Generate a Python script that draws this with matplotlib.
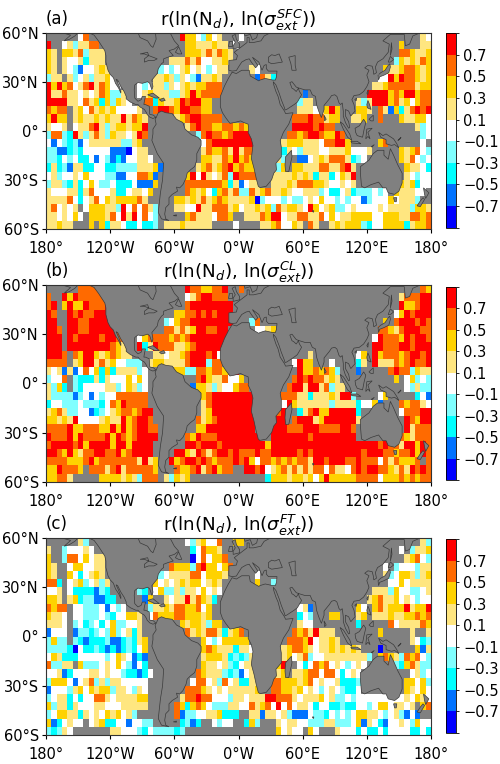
import numpy as np
import matplotlib
matplotlib.use("Agg")
import matplotlib.pyplot as plt
from matplotlib.colors import ListedColormap, BoundaryNorm
from matplotlib.patches import Polygon

# Correlation classes on a 5-degree grid, written north to south as "west half, east half".
# 1-9 are the colour classes from strongly negative to strongly positive, "." has no data.
SFC_WEST = [
"......58.................97754756...",
"9..5646688................77666766.5",
"76.77684666...............777686876.",
"76.65563666............666868556676.",
"76.654255676.........4545675654566..",
"466.645646675.......6676465426676...",
"97978568968755...5456646567677888...",
"96686656568744 6..56766644679788 88...".replace(" ", ""),
"9999665867374765..8837667989977.....",
"8788.6758676755556..89987998877.....",
"7977.67667676696876.....678998888...",
"6556.56689646776779.......6898877887",
"4884396468647665698.........48988789",
"525434256666664467...........5899999",
"4422343555552221566..........6877869",
"44354533525423255665.........7766879",
"3634266335533444466672......67867897",
"564556575554422558872.....7959656849",
"466436357544533352227.....8888888736",
"65556636855563356657......8767537868",
"6666853568576777786.....776768678766",
"685656.57776649585864...665596688867",
"6656575.7776859695854.....786665887.",
"66766...7.73665335334.666766666....5",
]
SFC_EAST = [
"5.................................65",
"..............................7...66",
"..............................887667",
".............................4767687",
"..65.......................766788767",
"...2863...................5597988767",
".........................66788888677",
"............2...........999978799788",
"...........466........64699978675788",
"...........66656797...776.8627368989",
"..........888988677..667..8...766775",
"87........99998988...............645",
"999......88789987798..............45",
"999.....6777666588997.....78......5.",
"688.....36546665566675556.....767854",
"787....64..2256768886345......768545",
"877...647.776668866896.........76653",
"8888..6666767636635769.........65455",
"2566..6667688877655656........767355",
"44867866765566645335634445 45.766655.".replace(" ", ""),
"6671455545445657554545524555756664..",
"566767486776597567445655556566664776",
".66687995668866857566777755777668878",
"....66785576.86..6767774355777736778",
]
CL_WEST = [
"......8888................98877889..",
"8..97988888...............56899888..",
"89.797798889..............899999999.",
"98..98988999............77889898999.",
"99..9988999998........4578899999999.",
"998.9988999998........886867998899..",
"999.98999989988..57888878789999999..",
"999.99999999876..93698886678999999..",
"9998.87997678766....6656678999895...",
"8888.6799686755444.67766668999488...",
"6562625857373666645.....774488788789",
"4558.43336365557575.........89766855",
"6473.43555566457645........277646557",
"6444424525455888888..........7899999",
"3554445444358798888..........6899999",
"67864455234567887899.........6799999",
"77676955556766978998........86789999",
"888897788877979789988.......77999999",
"988897988889798789999.....8798889999",
"89999897999979979999......9989998999",
"99879768899889789999....997698689989",
"888877789788888886967..9789989878889",
"7798887.8886896888887...87789689788.",
"77886.....77776764888.64767.........",
]
CL_EAST = [
"8.................................87",
"..............................688899",
"..............................977899",
".............................5798999",
"..48.......................7.8999898",
"...5567...................8876899988",
".........................59888798998",
".........................99888998999",
".............6........57.97888789989",
"..........5977...5....36.96668789889",
"...........97787874...2.....89884766",
"7.........898988676..........7.57454",
"88.......89969968466...........54644",
"999.....88866366676994....57.....352",
"999.....5976666664666635572...878865",
"999....89..368977999993.......588899",
"999...999.8999679999996........98799",
"999...9998889998888998.........96888",
"9999..9999999899999999........876888",
"99999799999999999999999999" + "8988699798",
"88898899999898999999999" + "8999887889798",
"897588787878869989998898885868" + "7778.8",
".99895678686868858665898998876869898",
".....3777677675797777788885777878788",
]
FT_WEST = [
"......64..................5467558..7",
"6..455565..................358776...",
"7..48857566................1585778..",
"76..5775566............877748977578.",
"76..7535676..........4566668857776..",
"883.56745646........7565676775676...",
"556.53333243.....43.5744646657565...",
"776.673442233.....27..6566968763....",
"8788.5544452545....466768877857.....",
"7665.5544454355776.587778877767.....",
"6665.4534535744556.......76776477...",
"2555.2443454745636........8676886367",
"4744.43233342234367..........7545777",
"4444315334323234357..........7876663",
"5763335555545765232..........6777634",
"84466.7444565754253..........7665643",
"55623555665655433235........87666434",
"4777525684646655555........588564856",
"2555467576774665465.......8887656566",
"4566353558865666677......68898855546",
"7466365556655566666.....873787544466",
"45776636565767564.......824455667333",
"7235655.567335525544.....3423..5455.",
"43465.......66555435444434..........",
]
FT_EAST = [
"7.................................64",
"..............................5.4667",
"...............................67854",
"...........................5.4555466",
"...5.......................645776467",
"...7..45....................55756666",
".........................66647554456",
"........................678667565455",
"...........562........75.78677796779",
"...........354...77...67.66676677878",
"...........655........3.....85666687",
"8.........87869666........7.....6..6",
"77.......8887956676.............6534",
"665.....678876566767676...1......726",
"346.....67568455666666664.7876487854",
"566....79..5358785654565....84378644",
"256...767.6678858853565.........5645",
"3366..88777678565563334........77574",
"6667..88776756545654335........76575",
"656669988865666756445455555555565765",
"558678595856653553343355457756656.78",
"..66266564222544354545776654564252..",
".374...65665544466444572653255654755",
".......75655.75...655535335355553353",
]

PANEL_LABELS = ["(a)", "(b)", "(c)"]
PANEL_TITLES = [
    r"r(ln(N$_d$), ln($\sigma_{ext}^{SFC}$))",
    r"r(ln(N$_d$), ln($\sigma_{ext}^{CL}$))",
    r"r(ln(N$_d$), ln($\sigma_{ext}^{FT}$))",
]
LEVELS = [-0.9, -0.7, -0.5, -0.3, -0.1, 0.1, 0.3, 0.5, 0.7, 0.9]
CLASS_VALUES = {str(i + 1): (LEVELS[i] + LEVELS[i + 1]) / 2 for i in range(9)}
CBAR_TICKS = [-0.7, -0.5, -0.3, -0.1, 0.1, 0.3, 0.5, 0.7]
COLORS = ["#0000ff", "#0072ff", "#00ffff", "#80ffff", "#ffffff",
          "#ffe680", "#ffd200", "#ff6a00", "#ff0000"]
LON_TICKS = [-180, -120, -60, 0, 60, 120, 180]
LON_LABELS = ["180°", "120°W", "60°W", "0°W", "60°E", "120°E", "180°"]
LAT_TICKS = [60, 30, 0, -30, -60]
LAT_LABELS = ["60°N", "30°N", "0°", "30°S", "60°S"]

# Simplified coastlines as (lon, lat) rings.
NORTH_AMERICA = [(-168,62),(-165,60),(-157,58.5),(-163,55),(-158,56),(-153,58),(-150,60),(-146,60.5),(-140,60),
    (-135,58.5),(-131,55),(-128,52),(-125,49),(-124,46),(-124,42),(-122,37),(-120,34.5),(-117,32.5),(-115,29),
    (-112,26),(-110,23),(-110,24.5),(-112,28),(-114.5,31.5),(-113,31),(-110,27),(-107,24),(-105,21),(-105,19.5),
    (-101,17.5),(-96,16),(-94,16),(-92,14.5),(-88,13),(-86,11),(-85.5,10),(-83,8.3),(-80,7.5),(-78,8),
    (-77,8),(-79.5,9.5),(-83,10),(-83.5,15),(-87,16),(-88.5,16),(-88,18),(-87,21),(-90,21),(-91,19),(-94,18),
    (-97,20),(-97.5,25),(-97,28),(-94,29.5),(-90,29),(-85,30),(-83,29),(-81,25),(-80,27),(-81,31),(-76,35),
    (-75,38),(-72,41),(-70,42),(-70,44),(-66,45),(-61,46),(-65,49),(-60,50),(-56,52),(-60,55),(-64,60),(-70,62),
    (-78,62),(-77,56),(-80,51),(-82,52),(-85,55),(-92,57),(-94,60),(-94,66),(-168,66)]
SOUTH_AMERICA = [(-77,8),(-75,11),(-72,12),(-68,11),(-62,10.5),(-58,7),(-52,5),(-50,1),(-44,-2.5),(-38,-4),(-35,-6),
    (-35,-9),(-39,-14),(-39,-18),(-41,-22),(-45,-24),(-48,-26),(-49,-29),(-52,-33),(-55,-35),(-58,-34.5),(-57,-37),
    (-62,-39),(-65,-41),(-65,-45),(-68,-47),(-69,-51),(-68,-54),(-65,-55),(-72,-54),(-75,-50),(-74,-44),(-73,-38),
    (-71,-30),(-70,-20),(-76,-14),(-81,-6),(-80,-2),(-80,1),(-77,4),(-78,7)]
AFRO_EURASIA = [(-6,35.8),(-9.5,32),(-13,27.5),(-17,21),(-17,14.7),(-15,11),(-12,8),(-8,4.5),(-4,5),(2,6),(5,5),(9,4),
    (9.5,1),(9,-1),(12,-5),(13.5,-9),(12,-17),(14.5,-23),(16.5,-29),(18.5,-34),(20,-34.8),(26,-34),(31,-30),(33,-26),
    (35.5,-24),(35,-20),(40,-16),(40,-10),(39,-6),(42,-1),(47,4),(51,11),(44,10.5),(43,12),(39,16),(37,21),(35,24),
    (33,28),(32.5,30),(35,28),(38,23),(40,19),(43,14),(43.5,12.7),(45,13),(52,16),(55,17.5),(59,22),(57,24),(56,26),
    (54,24),(51.5,25.5),(50,26),(48,29.5),(50,30),(54,26.7),(57,26),(62,25),(67,25),(69,22),(72,21),(73,16),(75,12),
    (77.5,8),(80,13),(80,15.5),(85,19.5),(87,21.5),(90,22),(92,21),(94,17),(95.5,16),(97,17),(98,12),(98,9),(100,5),
    (103,1.5),(104,2),(103,5.5),(100,9),(100,13),(103,12),(105,9),(109,12),(108,16),(106,19),(108,21.5),(113,22),
    (117,24),(120,27),(122,30),(120,34),(122,37),(118,38.5),(121,40),(125,39.5),(126,37),(126.5,34.5),(129,35.5),
    (128,39),(130,42),(135,44),(140,48),(141,53),(135,55),(142,59),(155,59),(156,52),(160,53),(163,58),(170,60),
    (180,65),(180,75),(30,75),(25,70),(5,62),(6,58),(11,59),(13,55.5),(17,57),(18,60),(22,65),(25,65),(22,60),(30,60),
    (24,58),(21,55),(14,54),(10,54),(10,57),(8,57),(8,54),(4,52),(0,50),(-4,48),(-1,46),(-2,43.5),(-9,43),(-9,37),
    (-6,36.5),(-2,36.8),(0,39),(3,42),(7,43.5),(10,44),(12,42),(16,38.5),(18,40),(13,45),(19,42),(22,37),(24,40),
    (26,40.5),(26,38),(28,36.5),(36,36.5),(35.5,33),(34.5,31),(32,31),(25,32),(20,31),(19,30.5),(15,32),(11,33.5),
    (10,37),(3,37),(-2,35)]
AUSTRALIA = [(114,-22),(122,-18),(126,-14),(130,-12),(136,-12),(136,-15),(140,-17.5),(142,-11),(145,-15),(149,-21),
    (153,-26),(153,-32),(150,-37),(146,-39),(140,-38),(138,-35),(135,-35),(131,-31.5),(124,-33),(118,-35),(115,-34),(114,-26)]
ISLANDS = [
    [(44,-16),(49.5,-12),(50,-16),(47,-25),(44,-25),(43.5,-21)],
    [(145,-41),(148,-41),(147.5,-43.5),(146,-43.5)],
    [(173,-35),(178,-38),(175,-41.5),(174,-39)],
    [(172.5,-41),(174,-42),(170,-46.5),(167,-46),(170,-43)],
    [(131,-1),(135,-3),(138,-2),(145,-5),(148,-8),(150,-10.5),(146,-8.5),(143,-9),(138,-8),(138,-5.5),(133,-4)],
    [(109,1.5),(113,3),(117,7),(119,5),(117.5,1),(116,-4),(111,-3),(109.5,-1)],
    [(95,5.5),(98,4),(104,-2),(106,-6),(102,-4),(98,1)],
    [(105,-6.5),(111,-6.5),(114.5,-8),(106,-7.5)],
    [(119,-5),(120,1),(125,1.5),(121,-1),(123,-5),(121,-3.5)],
    [(120,16),(121,18.5),(122,17),(124,13),(120.5,14)],
    [(122,7),(126,9.5),(126,6),(124,6)],
    [(120,23),(121.5,25),(121,22)],
    [(108.7,19),(110.5,20),(110,18.3)],
    [(130.5,34),(133,35.5),(137,37),(140,40),(141.5,41),(142,39),(140.5,35.5),(136,34),(132,33),(131,31)],
    [(140,42),(142,45.5),(145,43.5),(142,42)],
    [(142,46),(143,54),(143.5,50)],
    [(80,9.5),(82,7),(80.5,6)],
    [(-85,22),(-80,23),(-74,20),(-78,20)],
    [(-74,19),(-70,20),(-68.5,18.5),(-72,18)],
    [(-61,-52),(-58,-51.5),(-58,-52.2)],
    [(69,-49),(70.5,-49),(70,-50)],
    [(-59,48),(-56,51.5),(-53,47),(-56,47)],
    [(-5,50),(1,51),(1,53),(-2,56),(-3,59),(-6,58),(-3,54),(-5,52)],
    [(-10,52),(-6,52),(-6,55),(-9,55)],
    [(125,-10),(127,-8.5),(124,-9.8)],
    [(151,-5),(152,-4),(149,-6)],
]
INLAND_SEAS = [
    [(28,42),(28,45),(31,46.5),(34,46),(38,47),(41,42),(36,41.5),(31,41)],
    [(47,45),(53,46),(53,40),(54,37),(50,37),(49,41)],
    [(-92,47),(-85,48),(-84,46),(-88,44),(-88,42),(-84,43),(-79,43),(-76,44),(-80,45),(-84,46),(-88,47)],
]

LAND_COLOR = "#808080"
COAST_COLOR = "#3a3a3a"


def grid_from_rows(west, east):
    rows = []
    for w, e in zip(west, east):
        text = w.ljust(36, ".")[:36] + e.ljust(36, ".")[:36]
        rows.append([CLASS_VALUES.get(c, np.nan) for c in text])
    return np.ma.masked_invalid(np.array(rows))


W, H = 500, 764
fig = plt.figure(figsize=(W / 100, H / 100), dpi=100)
cmap = ListedColormap(COLORS)
cmap.set_bad(LAND_COLOR)
norm = BoundaryNorm(LEVELS, cmap.N)
lon_edges = np.arange(-180, 181, 5)
lat_edges = np.arange(60, -61, -5)

AXES_PX = [(32.7, 228.7), (285, 481.7), (538, 735)]
CBAR_PX = [(33, 227.7), (286.7, 480), (539, 732.7)]
panels = [(SFC_WEST, SFC_EAST), (CL_WEST, CL_EAST), (FT_WEST, FT_EAST)]

for i, (west, east) in enumerate(panels):
    top, bottom = AXES_PX[i]
    ax = fig.add_axes([46 / W, 1 - bottom / H, 385 / W, (bottom - top) / H])
    ax.set_facecolor(LAND_COLOR)
    mesh = ax.pcolormesh(lon_edges, lat_edges, grid_from_rows(west, east), cmap=cmap, norm=norm)
    rings = [NORTH_AMERICA, SOUTH_AMERICA, AFRO_EURASIA, AUSTRALIA] + ISLANDS + INLAND_SEAS
    for ring in rings:
        ax.add_patch(Polygon(ring, closed=True, facecolor=LAND_COLOR, edgecolor=COAST_COLOR, linewidth=0.5))
    ax.set_xlim(-180, 180)
    ax.set_ylim(-60, 60)
    ax.set_xticks(LON_TICKS, LON_LABELS, fontsize=10.5)
    ax.set_yticks(LAT_TICKS, LAT_LABELS, fontsize=10.5)
    ax.tick_params(axis="y", length=3, width=0.8, pad=2)
    ax.tick_params(axis="x", length=3, width=0.8, pad=5.5)
    for spine in ax.spines.values():
        spine.set_linewidth(0.8)
        spine.set_color("#333333")
    ax.set_title(PANEL_TITLES[i], fontsize=13.2, pad=4.5)
    ax.text(0, 1.025, PANEL_LABELS[i], transform=ax.transAxes, fontsize=12, ha="left", va="bottom")

    ctop, cbottom = CBAR_PX[i]
    cax = fig.add_axes([445.7 / W, 1 - cbottom / H, 10.3 / W, (cbottom - ctop) / H])
    cbar = fig.colorbar(mesh, cax=cax, ticks=CBAR_TICKS, spacing="proportional", drawedges=False)
    cbar.ax.set_yticklabels([f"{t:.1f}".replace("-", "\u2212") for t in CBAR_TICKS], fontsize=10.5)
    cbar.ax.tick_params(length=2.5, width=0.6, pad=2.5)
    cbar.outline.set_linewidth(0.6)

fig.savefig("out.png", dpi=100)
